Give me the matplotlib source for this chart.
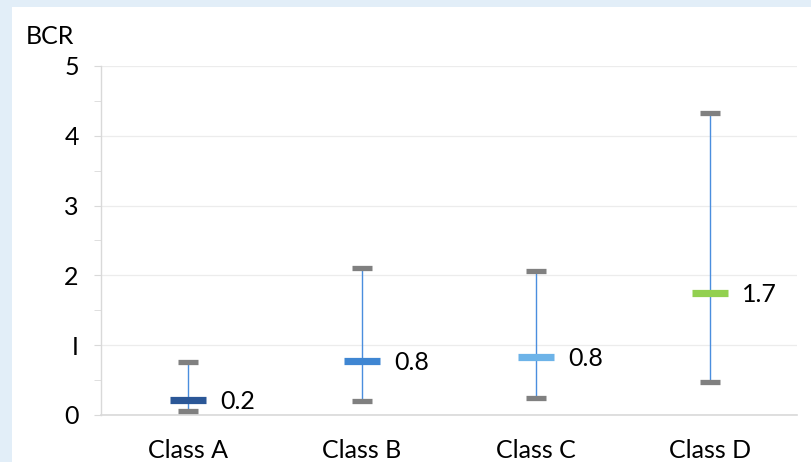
import matplotlib
matplotlib.use("Agg")
import matplotlib.pyplot as plt
from matplotlib.ticker import MultipleLocator

plt.rcParams['font.family'] = ['Lato', 'DejaVu Sans']

categories = ["Class A", "Class B", "Class C", "Class D"]
low = [0.06, 0.20, 0.24, 0.47]
high = [0.76, 2.10, 2.06, 4.33]
mid = [0.21, 0.77, 0.83, 1.75]
mid_labels = ["0.2", "0.8", "0.8", "1.7"]
mid_colors = ["#2b5797", "#3f86d2", "#6db3e8", "#92d050"]

fig = plt.figure(figsize=(8.12, 4.62), dpi=100)
fig.patch.set_facecolor("#e2eef8")
# white panel
fig.patches.append(plt.Rectangle((12/812, 0), 1 - 12/812, 1 - 7/462,
                                 transform=fig.transFigure, facecolor="white",
                                 edgecolor="none", zorder=-5))

ax = fig.add_axes([101/812, 47/462, (797-101)/812, (415-66)/462])
ax.set_zorder(2)
ax.set_facecolor("white")
ax.set_xlim(-0.5, 3.5)
ax.set_ylim(0, 5)

ax.yaxis.set_major_locator(MultipleLocator(1))
ax.yaxis.set_minor_locator(MultipleLocator(0.5))
ax.grid(axis='y', which='major', color="#ececec", linewidth=0.9, zorder=0)
for s in ['top', 'right']:
    ax.spines[s].set_visible(False)
ax.spines['left'].set_color("#d9d9d9")
ax.spines['bottom'].set_color("#d9d9d9")
ax.spines['left'].set_linewidth(1.0)
ax.spines['bottom'].set_linewidth(1.2)

fs = 18
ax.tick_params(axis='y', which='both', length=5, color="#d9d9d9", pad=11,
               labelsize=fs)
ax.tick_params(axis='x', length=0, pad=17, labelsize=fs)
ax.set_yticks([0, 1, 2, 3, 4, 5])
ax.set_yticklabels(["0", "I", "2", "3", "4", "5"])

x = list(range(len(categories)))
ax.set_xticks(x)
ax.set_xticklabels(categories)

cap_w = 0.12
mid_w = 0.21
ax.vlines(x, low, high, color="#4a8ede", linewidth=1.0, zorder=2)
for xi, lo, hi, m, lab, c in zip(x, low, high, mid, mid_labels, mid_colors):
    ax.hlines([lo, hi], xi - cap_w/2, xi + cap_w/2, color="#808080",
              linewidth=3.8, capstyle='butt', zorder=3)
    ax.hlines(m, xi - mid_w/2, xi + mid_w/2, color=c, linewidth=5.2,
              capstyle='butt', zorder=4)
    ax.annotate(lab, (xi, m), xytext=(23, -1), textcoords='offset points',
                va='center', ha='left', fontsize=fs, color="black", zorder=5)

fig.text(26/812, 1 - 36/462, "BCR", fontsize=fs, va='center', ha='left')

fig.savefig("out.png", dpi=100, facecolor=fig.get_facecolor())
